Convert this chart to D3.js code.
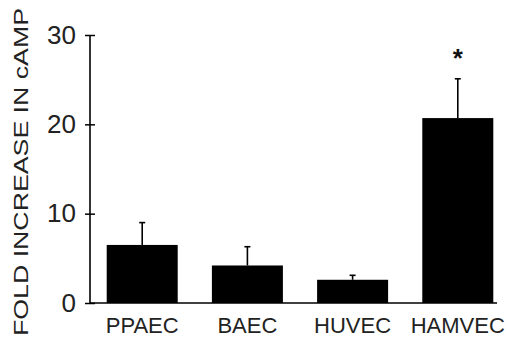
<!DOCTYPE html>
<html lang="en">
<head>
    <meta charset="UTF-8">
    <title>Fold increase in cAMP</title>
    <script src="https://d3js.org/d3.v7.min.js"></script>
    <style>
        body { margin: 0; background: #fff; }
        text { font-family: "Liberation Sans", Arial, sans-serif; fill: #111; }
    </style>
</head>
<body>
    <svg width="510" height="339"></svg>

    <script>
        // data
        const cells = ['PPAEC', 'BAEC', 'HUVEC', 'HAMVEC'];
        const means = [6.5, 4.2, 2.6, 20.7];
        const errTops = [9.0, 6.3, 3.1, 25.1];
        const significant = [false, false, false, true];
        const yTicks = [0, 10, 20, 30];

        const svg = d3.select('svg');

        const x = d3.scaleBand()
            .domain(cells)
            .range([106.7, 493.3])
            .paddingInner(0.325)
            .paddingOuter(0);

        const y = d3.scaleLinear()
            .domain([0, 30])
            .range([303, 35]);

        const axisX = 90;

        // bars
        svg.selectAll('.bar')
            .data(cells)
            .enter()
            .append('rect')
            .attr('class', 'bar')
            .attr('x', d => x(d))
            .attr('y', (d, i) => y(means[i]))
            .attr('width', x.bandwidth())
            .attr('height', (d, i) => y(0) - y(means[i]))
            .style('fill', '#000');

        // error bars (upper only)
        const err = svg.selectAll('.err')
            .data(cells)
            .enter()
            .append('g')
            .attr('class', 'err');

        err.append('line')
            .attr('x1', d => x(d) + x.bandwidth() / 2)
            .attr('x2', d => x(d) + x.bandwidth() / 2)
            .attr('y1', (d, i) => y(means[i]))
            .attr('y2', (d, i) => y(errTops[i]))
            .style('stroke', '#000')
            .style('stroke-width', 1.6);

        err.append('line')
            .attr('x1', d => x(d) + x.bandwidth() / 2 - 3)
            .attr('x2', d => x(d) + x.bandwidth() / 2 + 3)
            .attr('y1', (d, i) => y(errTops[i]))
            .attr('y2', (d, i) => y(errTops[i]))
            .style('stroke', '#000')
            .style('stroke-width', 1.6);

        // significance marker
        svg.selectAll('.star')
            .data(cells.filter((d, i) => significant[i]))
            .enter()
            .append('text')
            .attr('class', 'star')
            .attr('x', d => x(d) + x.bandwidth() / 2)
            .attr('y', (d) => y(errTops[cells.indexOf(d)]) - 12)
            .attr('text-anchor', 'middle')
            .style('font-size', '26px')
            .style('font-weight', 'bold')
            .text('*');

        // y axis
        const yAxis = d3.axisLeft(y)
            .tickValues(yTicks)
            .tickSize(5)
            .tickPadding(9);

        const gy = svg.append('g')
            .attr('transform', `translate(${axisX},0)`)
            .call(yAxis);
        gy.select('.domain').remove();
        gy.selectAll('.tick line')
            .attr('x1', 5)
            .attr('x2', -5)
            .style('stroke', '#000')
            .style('stroke-width', 1.5);
        gy.selectAll('.tick text')
            .style('font-size', '26px')
            .style('font-family', '"Liberation Sans", Arial, sans-serif')
            .style('fill', '#222');

        svg.append('line')
            .attr('x1', axisX).attr('x2', axisX)
            .attr('y1', y(30)).attr('y2', y(0))
            .style('stroke', '#000')
            .style('stroke-width', 1.6);

        // baseline
        svg.append('line')
            .attr('x1', axisX).attr('x2', 497)
            .attr('y1', y(0)).attr('y2', y(0))
            .style('stroke', '#000')
            .style('stroke-width', 1.6);

        // category labels
        svg.selectAll('.cat')
            .data(cells)
            .enter()
            .append('text')
            .attr('class', 'cat')
            .attr('x', d => x(d) + x.bandwidth() / 2)
            .attr('y', 333)
            .attr('text-anchor', 'middle')
            .style('font-size', '22px')
            .style('fill', '#222')
            .text(d => d);

        // y title
        svg.append('text')
            .attr('transform', 'translate(28,172) rotate(-90)')
            .attr('text-anchor', 'middle')
            .attr('textLength', 328)
            .attr('lengthAdjust', 'spacingAndGlyphs')
            .style('font-size', '20px')
            .style('fill', '#222')
            .text('FOLD INCREASE IN cAMP');
    </script>
</body>
</html>
